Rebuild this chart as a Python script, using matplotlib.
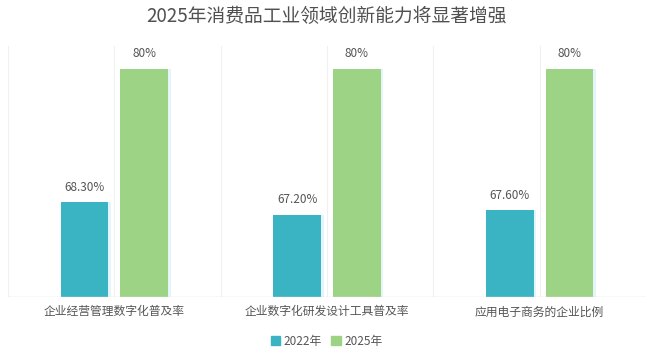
import matplotlib
matplotlib.use("Agg")
import matplotlib.pyplot as plt
from matplotlib.patches import Patch
import numpy as np

plt.rcParams['font.family'] = ['Noto Sans CJK SC', 'DejaVu Sans']

title = "2025年消费品工业领域创新能力将显著增强"
categories = ["企业经营管理数字化普及率", "企业数字化研发设计工具普及率", "应用电子商务的企业比例"]
series_names = ["2022年", "2025年"]
values_2022 = [68.30, 67.20, 67.60]
values_2025 = [80, 80, 80]
labels_2022 = ["68.30%", "67.20%", "67.60%"]
labels_2025 = ["80%", "80%", "80%"]

c2022 = "#3ab3c2"
c2025 = "#9dd384"
txt = "#555555"

fig = plt.figure(figsize=(6.53, 3.51), dpi=100)
ax = fig.add_axes([8/653, 1-297/351, (646-8)/653, (297-46)/351])

x = np.arange(len(categories))
w = 0.225
off = 0.14
b1 = ax.bar(x - off, values_2022, w, color=c2022, zorder=3)
b2 = ax.bar(x + off, values_2025, w, color=c2025, zorder=3)

# subtle right shadow
for bars in (b1, b2):
    for r in bars:
        ax.add_patch(plt.Rectangle((r.get_x() + r.get_width(), 60), 0.012, r.get_height() - 60,
                                   color="#e3f4fa", zorder=2, lw=0))

ax.set_ylim(60, 82)
ax.set_xlim(-0.5, 2.5)

for r, lab in zip(b1, labels_2022):
    ax.text(r.get_x() + r.get_width()/2, r.get_height() + 0.75, lab, ha="center", va="bottom",
            fontsize=8.5, color=txt)
for r, lab in zip(b2, labels_2025):
    ax.text(r.get_x() + r.get_width()/2, r.get_height() + 0.75, lab, ha="center", va="bottom",
            fontsize=8.5, color=txt)

for gx in np.arange(-0.5, 2.51, 0.5):
    ax.axvline(gx, color="#f0f0f0", lw=0.8, zorder=1)
ax.axhline(60, color="#e0e0e0", lw=1.0, zorder=4)

for s in ax.spines.values():
    s.set_visible(False)
ax.set_yticks([])
ax.set_xticks(x)
ax.set_xticklabels(categories, fontsize=8.5, color=txt)
ax.tick_params(axis="x", length=0, pad=6)

fig.text(0.5, 1-17/351, title, ha="center", va="center", fontsize=13.5, color="#505050")

handles = [Patch(color=c2022, label=series_names[0]), Patch(color=c2025, label=series_names[1])]
fig.legend(handles=handles, loc="center", bbox_to_anchor=(0.5, 1-341/351), ncol=2, frameon=False,
           fontsize=8.5, handlelength=0.8, handleheight=0.8, handletextpad=0.3, columnspacing=0.8,
           labelcolor=txt)

fig.savefig("out.png", dpi=100, facecolor="white")
